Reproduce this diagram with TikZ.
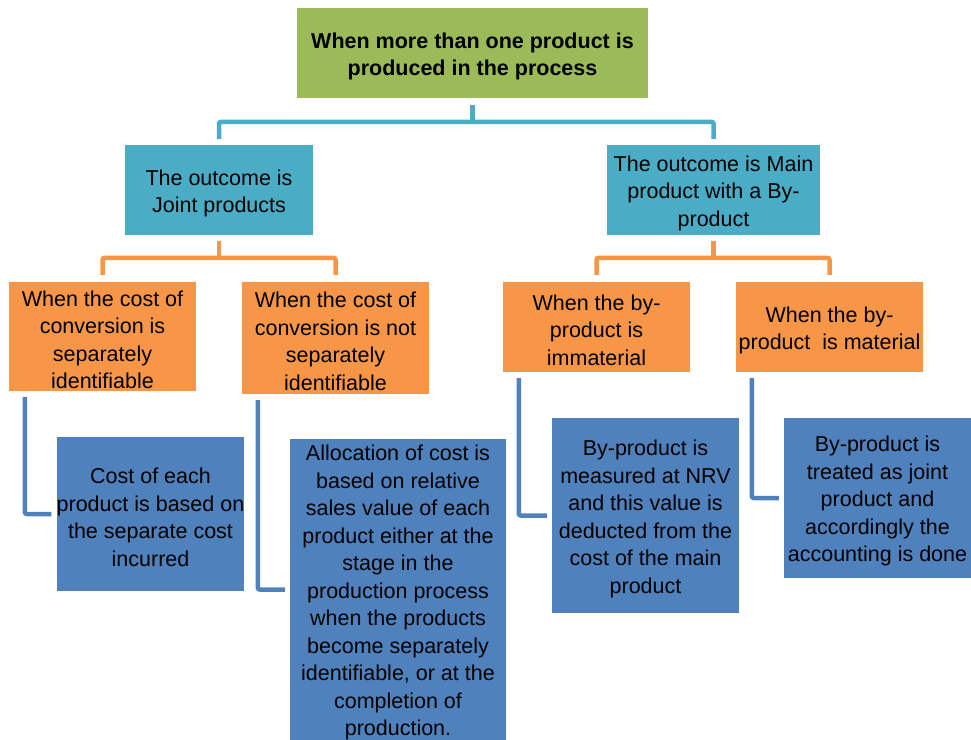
\documentclass[tikz,border=0pt]{standalone}
\usepackage{fontspec}
\setmainfont{Liberation Sans}
\definecolor{grbox}{HTML}{9BBB59}
\definecolor{tlbox}{HTML}{4BACC6}
\definecolor{orbox}{HTML}{F79646}
\definecolor{blbox}{HTML}{4F81BD}
\newcommand{\topgap}{\rule{0pt}{22pt}}

\begin{document}
\begin{tikzpicture}[x=1pt,y=-1pt,
    box/.style={inner sep=0pt,align=center,font=\fontsize{21.5}{27.5}\selectfont},
    link/.style={line width=4.5pt,rounded corners=2pt}]
  \useasboundingbox (0,0) rectangle (971,739);

  % top level
  \node[box,fill=grbox,minimum width=351pt,minimum height=90pt,
        font=\fontsize{21.5}{27.5}\selectfont\bfseries] (top) at (472.5,53)
        {\topgap When more than one product is\\produced in the process};

  % outcomes
  \node[box,fill=tlbox,minimum width=188pt,minimum height=90pt] (joint) at (219,190)
        {\topgap The outcome is\\Joint products};
  \node[box,fill=tlbox,minimum width=213pt,minimum height=90pt] (main) at (713.5,190)
        {\topgap The outcome is Main\\product with a By-\\product};

  % conditions
  \node[box,fill=orbox,minimum width=187pt,minimum height=109pt] (c1) at (102.5,336.5)
        {\topgap When the cost of\\conversion is\\separately\\identifiable};
  \node[box,fill=orbox,minimum width=187pt,minimum height=112pt] (c2) at (335.5,338)
        {\topgap When the cost of\\conversion is not\\separately\\identifiable};
  \node[box,fill=orbox,minimum width=187pt,minimum height=90pt] (c3) at (596.5,327)
        {\topgap When the by-\\product is\\immaterial};
  \node[box,fill=orbox,minimum width=187pt,minimum height=90pt] (c4) at (829.5,327)
        {\topgap When the by-\\product\ \ is material};

  % treatments
  \node[box,fill=blbox,minimum width=187pt,minimum height=154pt] (r1) at (150.5,514)
        {\topgap Cost of each\\product is based on\\the separate cost\\incurred};
  \node[box,fill=blbox,minimum width=216pt,minimum height=299pt] (r2) at (398,589.5)
        {\topgap Allocation of cost is\\based on relative\\sales value of each\\product either at the\\stage in the\\production process\\when the products\\become separately\\identifiable, or at the\\completion of\\production.};
  \node[box,fill=blbox,minimum width=187pt,minimum height=195pt] (r3) at (645.5,515.5)
        {\topgap By-product is\\measured at NRV\\and this value is\\deducted from the\\cost of the main\\product};
  \node[box,fill=blbox,minimum width=187pt,minimum height=160pt] (r4) at (877.5,498)
        {\topgap By-product is\\treated as joint\\product and\\accordingly the\\accounting is done};

  % brackets
  \draw[link,tlbox] ([yshift=-7pt]top.south) -- ++(0,17);
  \draw[link,tlbox] ([yshift=6pt]joint.north) -- ++(0,-17) -| ([yshift=6pt]main.north);
  \draw[link,orbox] ([yshift=-6pt]joint.south) -- ++(0,17);
  \draw[link,orbox] ([yshift=7pt]c1.north) -- ++(0,-17) -| ([yshift=7pt]c2.north);
  \draw[link,orbox] ([yshift=-6pt]main.south) -- ++(0,17);
  \draw[link,orbox] ([yshift=7pt]c3.north) -- ++(0,-17) -| ([yshift=7pt]c4.north);

  % elbows
  \foreach \c/\r in {c1/r1,c2/r2,c3/r3,c4/r4}
    \draw[link,blbox] ([xshift=16pt,yshift=-6pt]\c.south west) |- ([xshift=-5pt]\r.west);
\end{tikzpicture}
\end{document}
